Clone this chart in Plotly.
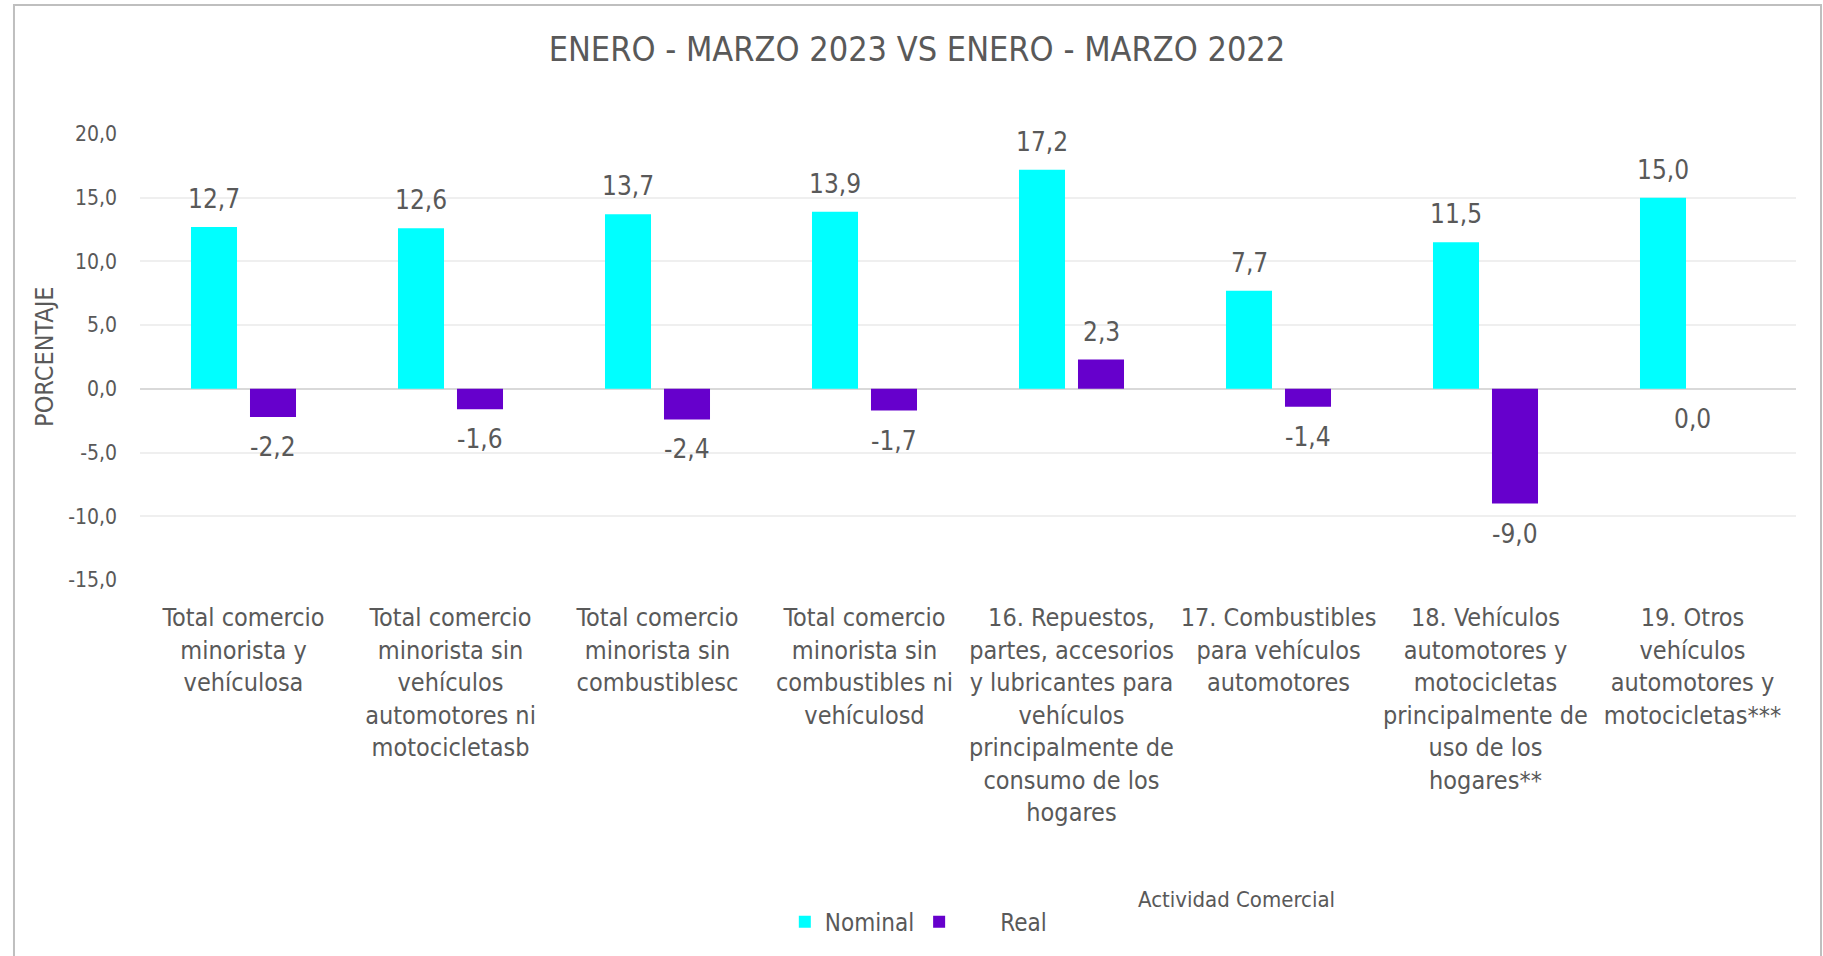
import plotly.graph_objects as go

categories = [
    "Total comercio<br>minorista y<br>vehículosa",
    "Total comercio<br>minorista sin<br>vehículos<br>automotores ni<br>motocicletasb",
    "Total comercio<br>minorista sin<br>combustiblesc",
    "Total comercio<br>minorista sin<br>combustibles ni<br>vehículosd",
    "16. Repuestos,<br>partes, accesorios<br>y lubricantes para<br>vehículos<br>principalmente de<br>consumo de los<br>hogares",
    "17. Combustibles<br>para vehículos<br>automotores",
    "18. Vehículos<br>automotores y<br>motocicletas<br>principalmente de<br>uso de los<br>hogares**",
    "19. Otros<br>vehículos<br>automotores y<br>motocicletas***",
]
nominal = [12.7, 12.6, 13.7, 13.9, 17.2, 7.7, 11.5, 15.0]
real = [-2.2, -1.6, -2.4, -1.7, 2.3, -1.4, -9.0, 0.0]
y_ticks = [-15, -10, -5, 0, 5, 10, 15, 20]

FONT = "DejaVu Sans Condensed, Liberation Sans Narrow, Lato, sans-serif"
GRAY = "#595959"
CYAN = "#00FFFF"
PURPLE = "#6600CC"

def fmt(v):
    return f"{v:.1f}".replace(".", ",")

fig = go.Figure()
fig.add_trace(go.Bar(x=categories, y=nominal, name="Nominal", marker_color=CYAN,
                     marker_line_width=0))
fig.add_trace(go.Bar(x=categories, y=real, name="\u00a0\u00a0\u00a0\u00a0\u00a0\u00a0Real",
                     marker_color=PURPLE, marker_line_width=0))

annotations = []
for series, shift in ((nominal, -29.5), (real, 29.5)):
    for c, v in zip(categories, series):
        annotations.append(dict(
            x=c, y=v, xref="x", yref="y", text=fmt(v), showarrow=False,
            xshift=(shift if v != 0 else 0), yshift=(28 if v > 0 else -30),
            font=dict(family=FONT, size=26, color=GRAY)))

annotations.append(dict(text="PORCENTAJE", x=-0.068, y=0.5, xref="paper", yref="paper",
                        textangle=-90, showarrow=False,
                        font=dict(family=FONT, size=25, color=GRAY)))
annotations.append(dict(text="Actividad Comercial", x=0.662, y=-0.749, xref="paper", yref="paper",
                        showarrow=False, font=dict(family=FONT, size=22, color=GRAY)))

fig.update_layout(
    width=1823, height=956,
    margin=dict(l=140, r=27, t=134, b=376),
    paper_bgcolor="white", plot_bgcolor="white",
    barmode="group", bargap=0.43, bargroupgap=0.22,
    title=dict(text="ENERO - MARZO 2023 VS ENERO - MARZO 2022", x=0.503, xanchor="center",
               y=1 - 49 / 956, yanchor="middle",
               font=dict(family=FONT, size=34, color=GRAY)),
    font=dict(family=FONT, color=GRAY),
    legend=dict(orientation="h", x=0.470, xanchor="center", y=-0.767, yanchor="middle",
                font=dict(family=FONT, size=24, color=GRAY), itemwidth=30,
                traceorder="normal"),
    annotations=annotations,
    shapes=[dict(type="rect", xref="paper", yref="paper", x0=-0.0761, x1=1.0151,
                 y0=-0.95, y1=1.289, line=dict(color="#BFBFBF", width=2), layer="below")],
)
fig.update_xaxes(showgrid=False, showline=False, ticks="", ticklabelstandoff=20,
                 tickfont=dict(family=FONT, size=25, color=GRAY), tickangle=0)
fig.update_yaxes(range=[-15, 20], tickvals=y_ticks, ticktext=[fmt(t) for t in y_ticks],
                 showgrid=True, gridcolor="#EFEFEF", gridwidth=1.5,
                 zeroline=True, zerolinecolor="#D9D9D9", zerolinewidth=2,
                 showline=False, ticks="", ticklabelstandoff=22,
                 tickfont=dict(family=FONT, size=21, color=GRAY))

fig.write_html("out.html", config={"displayModeBar": False},
               post_script="document.body.style.margin='0';document.body.style.overflow='hidden';")
